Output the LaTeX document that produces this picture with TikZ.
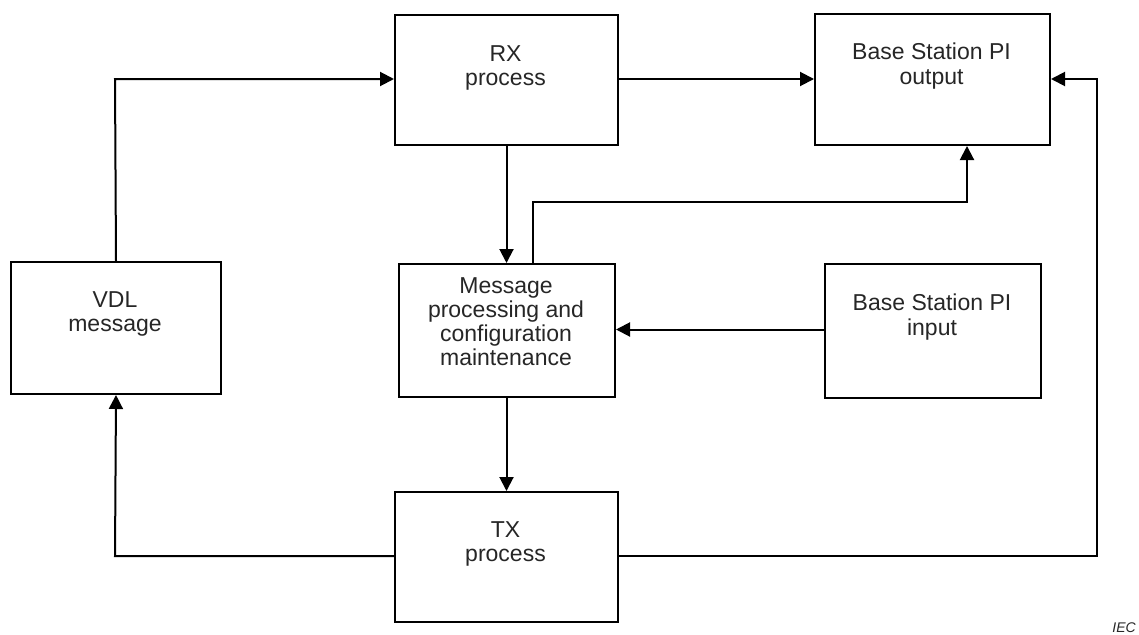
\documentclass[tikz,border=0pt]{standalone}
\usepackage{fontspec}
\setmainfont{Liberation Sans}
\usetikzlibrary{arrows.meta}
\begin{document}
\begin{tikzpicture}[x=1pt,y=-1pt,
  box/.style={draw=black,line width=2pt,inner sep=0pt,anchor=north west},
  txt/.style={text=black!85,align=center,inner sep=0pt,anchor=north,
    font=\fontsize{23}{24.3}\selectfont},
  conn/.style={line width=2pt,-{Triangle[length=14pt,width=14pt]}}]
\useasboundingbox (0,0) rectangle (1139,634);
% boxes
\node[box,minimum width=223pt,minimum height=130pt] (rx) at (394,14) {};
\node[box,minimum width=235pt,minimum height=131pt] (bso) at (814,13) {};
\node[box,minimum width=210pt,minimum height=132pt] (vdl) at (10,261) {};
\node[box,minimum width=216pt,minimum height=133pt] (msg) at (398,263) {};
\node[box,minimum width=216pt,minimum height=134pt] (bsi) at (824,263) {};
\node[box,minimum width=223pt,minimum height=130pt] (tx) at (394,491) {};
% texts
\node[txt] (rxt) at (505.5,45.5) {RX\\process};
\node[txt] (bsot) at (931.5,43) {Base Station PI\\output};
\node[txt] (vdlt) at (115,291.5) {VDL\\message};
\node[txt] (msgt) at (506,277) {Message\\processing and\\configuration\\maintenance};
\node[txt] (bsit) at (932,294) {Base Station PI\\input};
\node[txt] (txt1) at (505.5,521.5) {TX\\process};
\node[anchor=base east,inner sep=0pt,font=\fontsize{14}{16}\itshape,text=black!85] (iec) at (1136,632) {IEC};
% corner coordinates
\coordinate (c1) at (115,79);
\coordinate (c2) at (1097,556);
\coordinate (c3) at (1097,79);
\coordinate (c4) at (533,202);
\coordinate (c5) at (967,202);
\coordinate (c6) at (115,556);
% connectors
\draw[conn] (vdl.north) -- (c1) -- (c1 -| rx.west);
\draw[conn] (rx.east |- c1) -- (bso.west |- c1);
\draw[conn] (tx.east |- c2) -- (c2) -- (c3) -- (bso.east |- c3);
\draw[conn] (rx.south) -- (msg.north -| rx.south);
\draw[conn] (msg.north -| c4) -- (c4) -- (c5) -- (bso.south -| c5);
\draw[conn] (bsi.west |- 0,329.5) -- (msg.east |- 0,329.5);
\draw[conn] (msg.south -| rx.south) -- (tx.north);
\draw[conn] (tx.west |- c6) -- (c6) -- (vdl.south);
\end{tikzpicture}
\end{document}
